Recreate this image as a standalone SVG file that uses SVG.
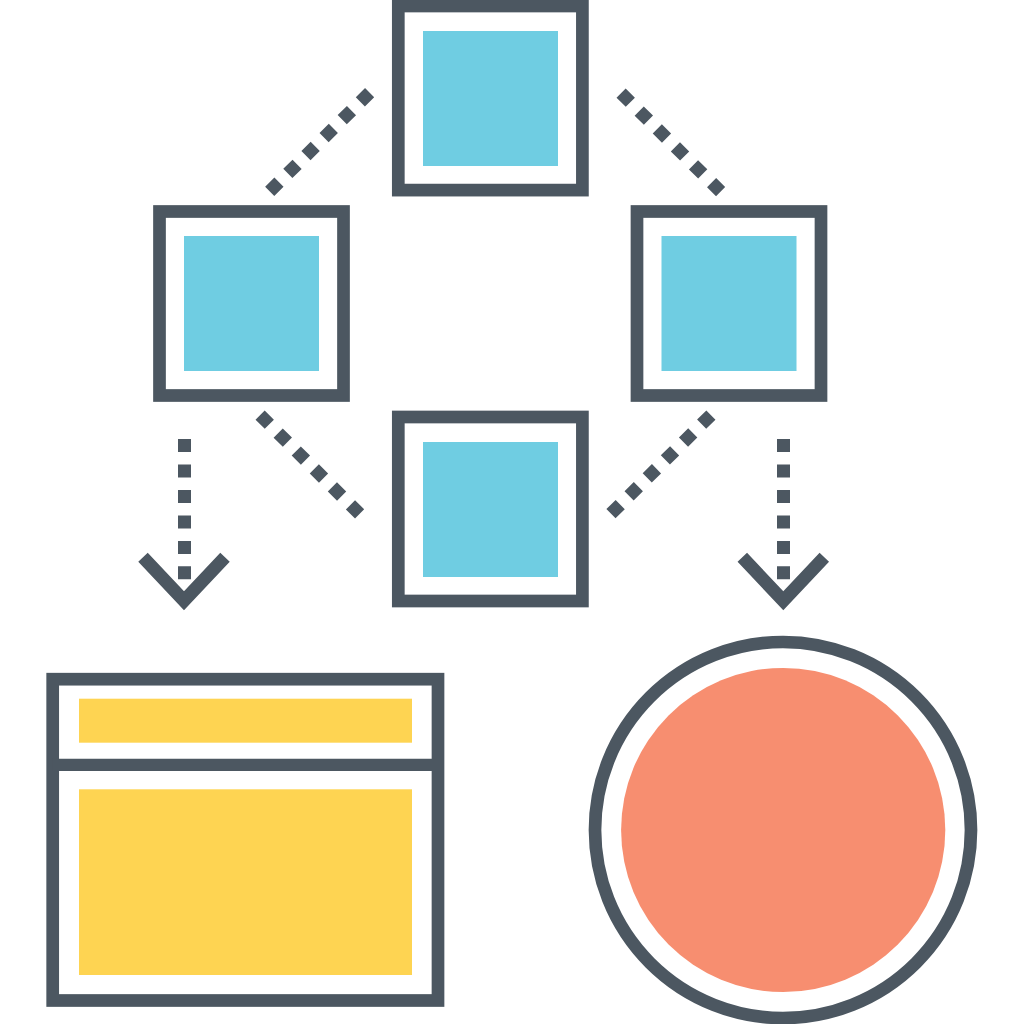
<svg xmlns="http://www.w3.org/2000/svg" width="1024" height="1024" viewBox="0 0 1024 1024">
<style>
.box{fill:#fff;stroke:#4c5761;stroke-width:12.7}
.blue{fill:#6fcde2}
.yellow{fill:#fed452}
.dots{fill:none;stroke:#4c5761;stroke-width:13;stroke-dasharray:13 12.47}
.head{fill:none;stroke:#4c5761;stroke-width:13}
</style>
<rect width="1024" height="1024" fill="#fff"/>
<g id="connectors">
<path class="dots" d="M369.600 92.700L269.700 191.300"/>
<path class="dots" d="M621.100 93.100L720.600 191.600"/>
<path class="dots" d="M260.100 415.100L359.600 513.900"/>
<path class="dots" d="M710.900 415.100L610.700 513.900"/>
<path class="dots" d="M184.500 439V580"/>
<path class="dots" d="M783.500 439V580"/>
<path class="head" d="M143 557.300L184 600.800L225 557.300"/>
<path class="head" d="M742.300 557.300L783.300 600.800L824.300 557.300"/>
</g>
<g id="node-top"><rect class="box" x="398.300" y="6" width="184.100" height="184.100"/><rect class="blue" x="423" y="31" width="135" height="135"/></g>
<g id="node-left"><rect class="box" x="159.500" y="211.500" width="184" height="184"/><rect class="blue" x="184" y="236" width="135" height="135"/></g>
<g id="node-right"><rect class="box" x="637" y="211.500" width="184" height="184"/><rect class="blue" x="661.500" y="236" width="135" height="135"/></g>
<g id="node-bottom"><rect class="box" x="398.300" y="417" width="184.100" height="184"/><rect class="blue" x="423" y="442" width="135" height="135"/></g>
<g id="node-window">
<rect class="box" x="52.700" y="679.200" width="385.300" height="321.300"/>
<path d="M52.700 764.900H438" fill="none" stroke="#4c5761" stroke-width="12.400"/>
<rect class="yellow" x="79" y="698.700" width="333" height="44"/>
<rect class="yellow" x="79" y="789.300" width="333" height="185.700"/>
</g>
<g id="node-circle">
<circle class="box" cx="783" cy="830" r="188"/>
<circle cx="783.200" cy="830" r="162.100" fill="#f78e70"/>
</g>
</svg>
